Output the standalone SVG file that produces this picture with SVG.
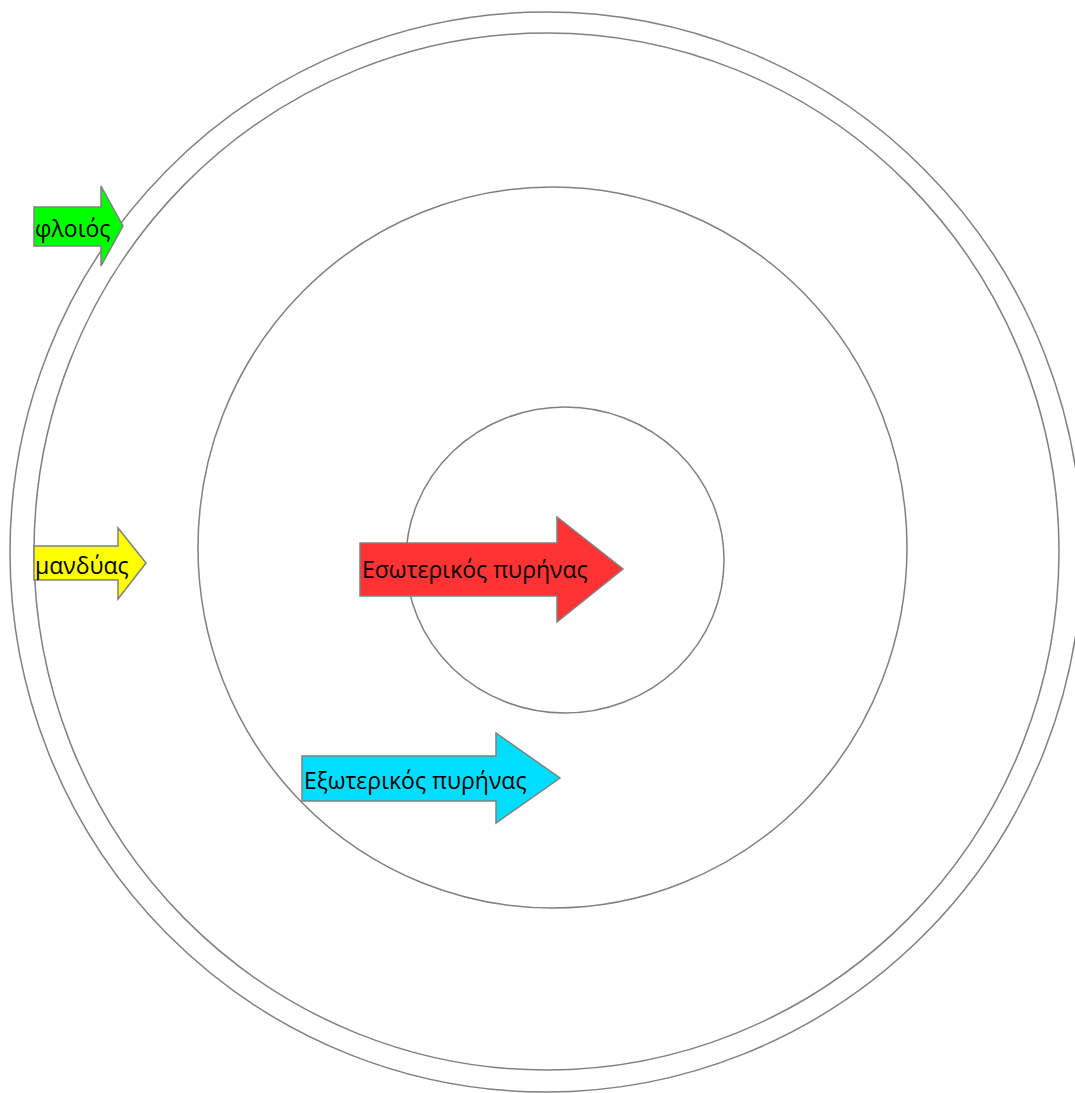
<svg xmlns="http://www.w3.org/2000/svg" width="1075" height="1093" viewBox="0 0 1075 1093">
<style>
.ring{fill:none;stroke:#808080;stroke-width:1.5}
.arrow{stroke:#808080;stroke-width:1.5}
.lbl{font-family:"Open Sans","Noto Sans",sans-serif;font-size:23px;fill:#000}
</style>
<rect width="1075" height="1093" fill="#fff"/>
<g id="rings">
<ellipse id="ring-outer" class="ring" cx="546" cy="552" rx="536" ry="540"/>
<ellipse id="ring-crust" class="ring" cx="546.5" cy="551.5" rx="512.5" ry="518.5"/>
<ellipse id="ring-mantle" class="ring" cx="552.5" cy="547.5" rx="354.5" ry="360.5"/>
<ellipse id="ring-core" class="ring" cx="565" cy="560" rx="159" ry="153"/>
</g>
<g id="crust">
<polygon class="arrow" fill="#00ff00" points="34,207 101,207 101,186 123,226 101,266 101,246 34,246"/>
<text class="lbl" x="35" y="237">φλοιός</text>
</g>
<g id="mantle">
<polygon class="arrow" fill="#ffff00" points="34,546 118,546 118,528 146,563 118,599 118,580 34,580"/>
<text class="lbl" x="35" y="574">μανδύας</text>
</g>
<g id="inner-core">
<polygon class="arrow" fill="#ff3333" points="360,543 557,543 557,517 623,569 557,622 557,596 360,596"/>
<text class="lbl" x="362" y="578">Εσωτερικός πυρήνας</text>
</g>
<g id="outer-core">
<polygon class="arrow" fill="#00ddff" points="302,756 496,756 496,733 560,778 496,823 496,801 302,801"/>
<text class="lbl" x="304" y="789">Εξωτερικός πυρήνας</text>
</g>
</svg>
